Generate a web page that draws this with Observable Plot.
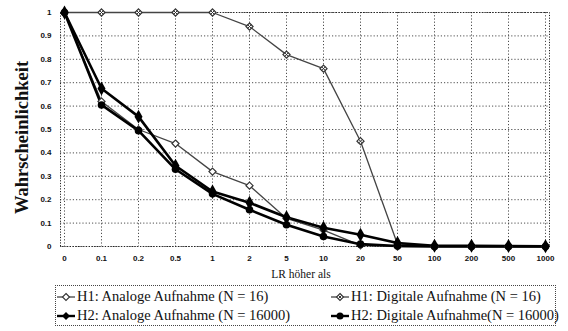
<!DOCTYPE html>
<html><head><meta charset="utf-8">
<script src="https://cdn.jsdelivr.net/npm/d3@7"></script>
<script src="https://cdn.jsdelivr.net/npm/@observablehq/plot@0.6"></script>
<style>
body{margin:0;background:#fff;width:568px;height:331px;overflow:hidden;}
#legend{position:absolute;left:55px;top:285px;width:501px;height:41px;border:1px dotted #444;box-sizing:border-box;
 font-family:"Liberation Serif",serif;font-size:14.5px;color:#111;display:grid;grid-template-columns:274px 226px;grid-template-rows:19px 19px;padding-top:1px;}
#legend div{display:flex;align-items:center;white-space:nowrap;}
#legend svg{margin-right:1px;flex:none;}
</style></head>
<body><div id="chart"></div><div id="legend"></div>
<script>
const categories = ["0","0.1","0.2","0.5","1","2","5","10","20","50","100","200","500","1000"];
const yTicks = [0,0.1,0.2,0.3,0.4,0.5,0.6,0.7,0.8,0.9,1];
const seriesNames = ["H1: Analoge Aufnahme (N = 16)","H1: Digitale Aufnahme (N = 16)","H2: Analoge Aufnahme (N = 16000)","H2: Digitale Aufnahme(N = 16000)"];
const h1Analog  = [1, 0.62, 0.50, 0.44, 0.32, 0.26, 0.12, 0.07, 0.005, 0, 0, 0, 0, 0];
const h1Digital = [1, 1, 1, 1, 1, 0.94, 0.82, 0.76, 0.45, 0.01, 0, 0, 0, 0];
const h2Analog  = [1, 0.675, 0.555, 0.345, 0.235, 0.187, 0.125, 0.08, 0.05, 0.015, 0.003, 0.003, 0.002, 0.001];
const h2Digital = [1, 0.605, 0.495, 0.33, 0.225, 0.157, 0.093, 0.043, 0.01, 0.002, 0, 0, 0, 0];

const mk = (vals, s) => vals.map((v,i)=>({x:categories[i], y:v, s}));
const dA1 = mk(h1Analog, seriesNames[0]);
const dD1 = mk(h1Digital, seriesNames[1]);
const dA2 = mk(h2Analog, seriesNames[2]);
const dD2 = mk(h2Digital, seriesNames[3]);
const serif = "'Liberation Serif',serif";

const chart = Plot.plot({
  width:568, height:280,
  marginTop:12, marginBottom:34, marginLeft:60, marginRight:19,
  style:{fontFamily:"'Liberation Sans',sans-serif", fontSize:"8px", background:"#fff", color:"#111"},
  x:{type:"point", domain:categories, padding:0, label:null},
  y:{domain:[0,1], label:null},
  marks:[
    Plot.gridY(yTicks, {stroke:"#222", strokeOpacity:0.8, strokeDasharray:"1.2,2"}),
    Plot.gridX(categories, {stroke:"#222", strokeOpacity:0.8, strokeDasharray:"1.2,2"}),
    Plot.frame({stroke:"#222", strokeDasharray:"1.2,1.5"}),
    Plot.axisY(yTicks, {tickSize:0, tickPadding:9, tickFormat:d=>String(d), fontWeight:"bold"}),
    Plot.axisX(categories, {tickSize:0, tickPadding:9, fontWeight:"bold"}),
    Plot.text(["LR höher als"], {frameAnchor:"bottom", dx:-4, dy:31, fontSize:11.5, fontFamily:serif, fill:"#111"}),
    Plot.text(["Wahrscheinlichkeit"], {frameAnchor:"left", textAnchor:"middle", dx:-38, dy:8, rotate:-90, fontSize:18.5, fontWeight:"bold", fontFamily:serif, fill:"#111"}),
    Plot.line(dA1, {x:"x", y:"y", stroke:"#444", strokeWidth:1.3}),
    Plot.line(dD1, {x:"x", y:"y", stroke:"#444", strokeWidth:1.3}),
    Plot.line(dA2, {x:"x", y:"y", stroke:"#000", strokeWidth:2.6}),
    Plot.line(dD2, {x:"x", y:"y", stroke:"#000", strokeWidth:2.6}),
    Plot.dot(dA1, {x:"x", y:"y", symbol:"diamond2", r:3.2, stroke:"#333", strokeWidth:1.2, fill:"#fff"}),
    Plot.dot(dD1, {x:"x", y:"y", symbol:"diamond2", r:3.2, stroke:"#333", strokeWidth:1.2, fill:"#fff"}),
    Plot.dot(dD1, {x:"x", y:"y", symbol:"times", r:2, stroke:"#333", strokeWidth:1}),
    Plot.dot(dA2, {x:"x", y:"y", symbol:"diamond", r:4.2, fill:"#000"}),
    Plot.dot(dD2, {x:"x", y:"y", symbol:"circle", r:3.8, fill:"#000"})
  ]
});
document.getElementById("chart").appendChild(chart);

const legend = document.getElementById("legend");
const sw = [
  `<svg width="20" height="10"><line x1="1" y1="5" x2="19" y2="5" stroke="#444" stroke-width="1.3"/><path d="M10,1.5L13.5,5L10,8.5L6.5,5Z" fill="#fff" stroke="#333" stroke-width="1.1"/></svg>`,
  `<svg width="20" height="10"><line x1="1" y1="5" x2="19" y2="5" stroke="#444" stroke-width="1.3"/><path d="M10,1.5L13.5,5L10,8.5L6.5,5Z" fill="#fff" stroke="#333" stroke-width="1.1"/><path d="M8.5,3.5L11.5,6.5M11.5,3.5L8.5,6.5" stroke="#333"/></svg>`,
  `<svg width="20" height="10"><line x1="1" y1="5" x2="19" y2="5" stroke="#000" stroke-width="2.4"/><path d="M10,1L14,5L10,9L6,5Z" fill="#000"/></svg>`,
  `<svg width="20" height="10"><line x1="1" y1="5" x2="19" y2="5" stroke="#000" stroke-width="2.4"/><circle cx="10" cy="5" r="3.5" fill="#000"/></svg>`
];
[0,1,2,3].forEach(i=>{
  const d = document.createElement("div");
  d.innerHTML = sw[i] + "<span>" + seriesNames[i] + "</span>";
  legend.appendChild(d);
});
</script></body></html>
